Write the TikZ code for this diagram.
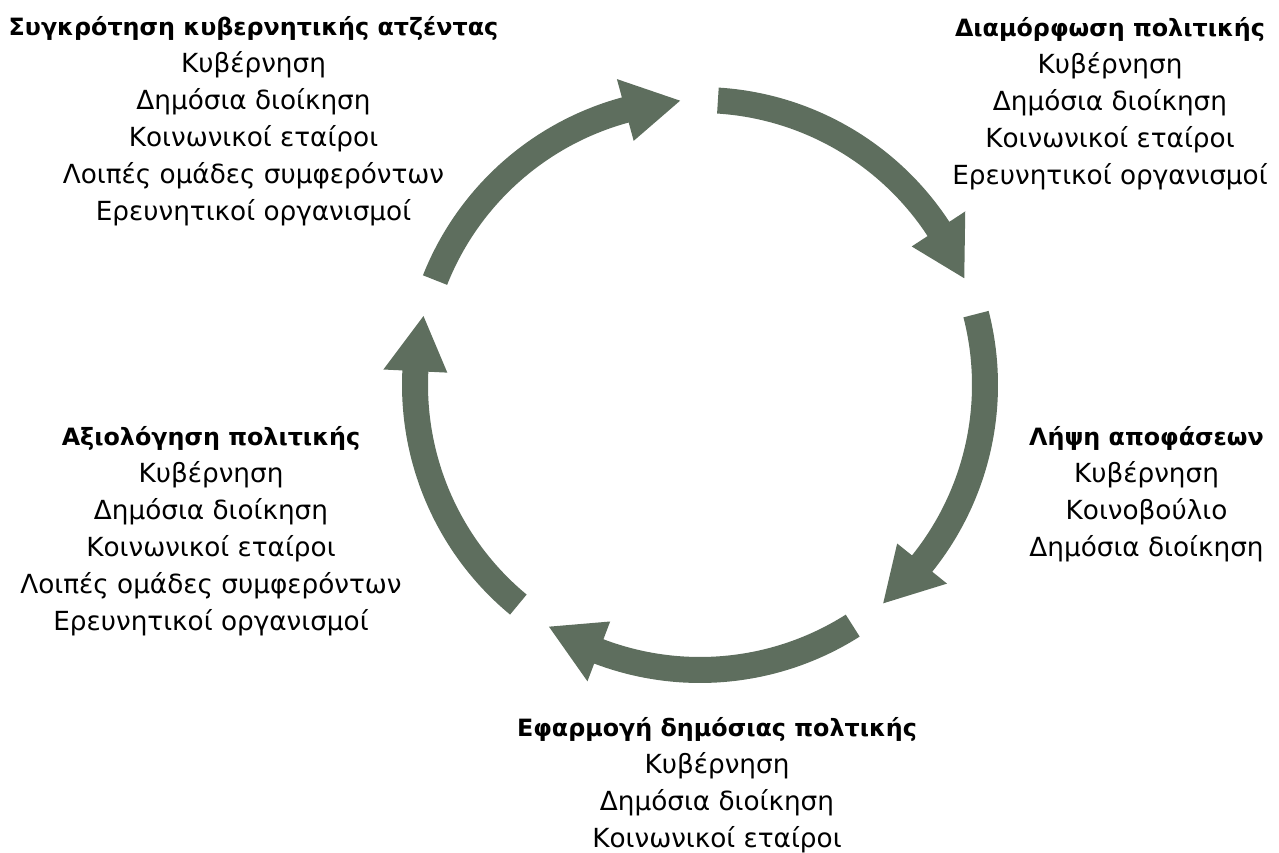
\documentclass[tikz,border=0pt]{standalone}
\usepackage{fontspec}
\setmainfont{DejaVu Sans}
\definecolor{arrowgreen}{RGB}{94,110,94}
\tikzset{
  stage/.style={align=center, inner sep=0pt, font=\fontsize{26.3}{37}\selectfont},
  cyclearrow/.style={fill=arrowgreen, draw=none}
}
\newcommand{\ttl}[1]{{\fontsize{23.8}{37}\selectfont\bfseries #1}}
\begin{document}
\begin{tikzpicture}[x=1pt,y=1pt]
\useasboundingbox (0,0) rectangle (1279,853);
\begin{scope}[shift={(700,468)}]
\foreach \a in {158.4,86.4,14.4,-57.6,-129.6}{
  \fill[cyclearrow] (\a:298) arc[start angle=\a, end angle=\a-53.2, radius=298]
    -- (\a-53.2:317) -- (\a-64.4:285) -- (\a-53.2:253) -- (\a-53.2:272)
    arc[start angle=\a-53.2, end angle=\a, radius=272] -- cycle;
}
\end{scope}
\node[stage] (agenda) at (253.5,731.5) {\ttl{Συγκρότηση κυβερνητικής ατζέντας}\\Κυβέρνηση\\Δημόσια διοίκηση\\Κοινωνικοί εταίροι\\Λοιπές ομάδες συμφερόντων\\Ερευνητικοί οργανισμοί};
\node[stage] (design) at (1110,749.5) {\ttl{Διαμόρφωση πολιτικής}\\Κυβέρνηση\\Δημόσια διοίκηση\\Κοινωνικοί εταίροι\\Ερευνητικοί οργανισμοί};
\node[stage] (decision) at (1146.5,358.5) {\ttl{Λήψη αποφάσεων}\\Κυβέρνηση\\Κοινοβούλιο\\Δημόσια διοίκηση};
\node[stage] (implement) at (717,67.5) {\ttl{Εφαρμογή δημόσιας πολτικής}\\Κυβέρνηση\\Δημόσια διοίκηση\\Κοινωνικοί εταίροι};
\node[stage] (evaluate) at (211,321.5) {\ttl{Αξιολόγηση πολιτικής}\\Κυβέρνηση\\Δημόσια διοίκηση\\Κοινωνικοί εταίροι\\Λοιπές ομάδες συμφερόντων\\Ερευνητικοί οργανισμοί};
\end{tikzpicture}
\end{document}
